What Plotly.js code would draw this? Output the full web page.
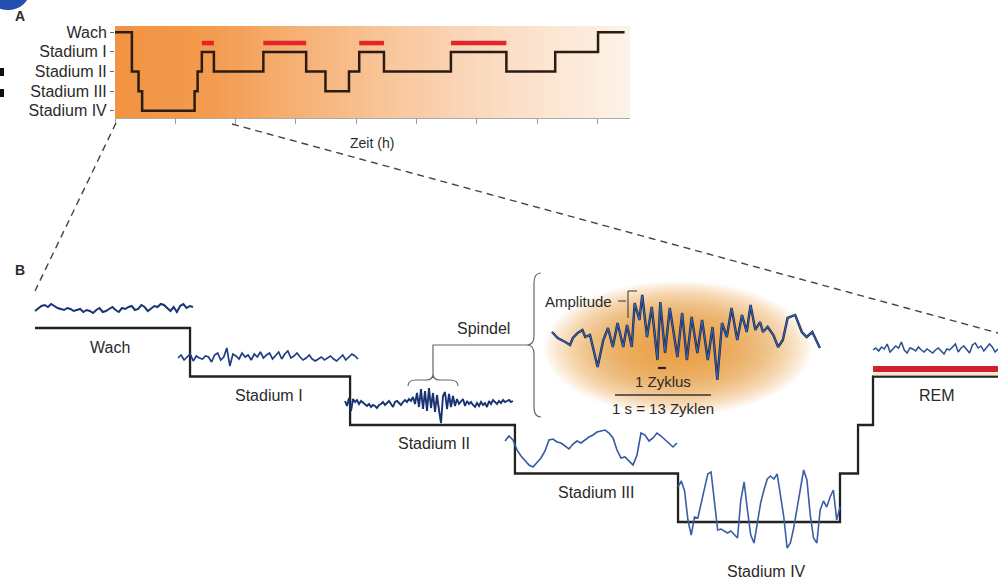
<!DOCTYPE html>
<html><head><meta charset="utf-8">
<script src="https://cdn.plot.ly/plotly-3.0.1.min.js"></script>
<style>html,body{margin:0;padding:0;background:#fff}#chart{width:998px;height:580px}</style>
</head><body><div id="chart"></div>
<script>
// ---------- Panel A: hypnogram ----------
const stageLabels = ['Wach', 'Stadium I', 'Stadium II', 'Stadium III', 'Stadium IV'];
const hypnoTime  = [0, 0.28, 0.39, 0.45, 1.32, 1.37, 1.44, 1.64, 2.46, 3.17, 3.49, 3.88, 4.05, 4.46, 5.57, 6.49, 7.30, 8.01, 8.45];
const hypnoStage = [0, 2, 3, 4, 3, 2, 1, 2, 1, 2, 3, 2, 1, 2, 1, 2, 1, 0, 0];
const remStart = [1.44, 2.46, 4.05, 5.57];
const remEnd   = [1.64, 3.17, 4.46, 6.49];
const hourTicks = [0, 1, 2, 3, 4, 5, 6, 7, 8];

// ---------- Panel B: staircase ----------
const stepBoundaries = [0, 0.963, 1.957, 2.981, 3.994, 5.0, 5.112, 5.205, 5.981];
const stepStages     = [0, 1, 2, 3, 4, 3, 2, 1, 1];
const stageNamesB = ['Wach', 'Stadium I', 'Stadium II', 'Stadium III', 'Stadium IV', 'REM'];

// ---------- EEG samples (µV, positive = up) ----------
const eegWach = [-4, 2, 6, 8, 4, 10, 6, 2, 0, -2, 2, 0, -4, -2, 0, -6, -2, -4, -8, -2, 2, -6, -4, 0, 4, -2, -6, 2, 0, 4, 6, -2, 0, 8, 4, -4, 2, 6, 4, 10, 8, 2, -4, 4, -6, 6, 10, 2, 6, 4];
const eegStadium1 = [0, 6, -4, 2, 8, -6, 4, 0, -2, 4, 2, -8, 6, 10, -4, 2, 20, -16, 8, 4, -2, 10, 2, 6, -4, 8, 2, 12, 0, 6, 10, -2, 4, 12, -2, 8, 14, 0, 4, 10, 2, -4, 0, 6, -2, -6, -2, 2, -4, 0, 4, -2, -6, 0, 6, -4, 2, 8, 4, -2];
const eegStadium2 = [4, -6, 10, -16, 8, 2, 6, -2, 4, 0, -4, -6, -2, -8, -4, -6, -10, -4, -2, 2, -4, 0, 4, -2, -8, 2, 4, 0, -4, 2, 6, 2, 8, 4, 12, -2, 20, -8, 28, -12, 24, -16, 30, -10, 20, -18, 16, -14, -40, 14, 22, -12, 18, -8, 14, -6, 8, -2, 2, 8, -6, 4, -2, 2, -4, -8, 0, -6, 2, -4, 0, -8, 4, -2, 6, 2, -2, 4, 0, 6, 2, 4, 6, 2, 4];
const eegStadium3 = [8, 18, 10, -10, -22, -30, -40, -44, -36, -26, -12, 10, 12, 6, 4, -2, -8, 2, 8, 4, 10, 16, 20, 26, 28, 30, 24, 14, -10, -26, -24, -32, -40, -20, 24, 20, 8, 14, 24, 18, 10, 4, -4, 4];
const eegStadium4 = [46, 58, 38, -20, -50, -14, -16, 14, 44, 72, 76, 20, -40, -38, -42, -46, -42, -50, -56, 20, 56, 0, -50, -66, -26, 14, 40, 62, 68, 62, 72, 30, -14, -76, -66, -36, 0, 44, 80, 60, -10, -56, -66, 0, 18, 6, 26, 40, -20, 6];
const eegREM = [0, 4, -2, 6, 2, 12, -4, 2, 8, 4, 16, 0, -6, 4, 2, -2, 6, 0, -4, 2, -2, -6, 0, 4, -2, -8, 2, 0, 6, 12, -4, 4, 8, 2, -6, 10, 14, 4, 8, -2, 4, 12, 6, -4, 2];
// Spindle detail: time (s) and µV
const spindleT = [0.00, 0.06, 0.14, 0.19, 0.22, 0.27, 0.32, 0.35, 0.40, 0.43, 0.48, 0.54, 0.59, 0.64, 0.69, 0.75, 0.79, 0.84, 0.87, 0.92, 0.95, 1.00, 1.05, 1.11, 1.14, 1.19, 1.24, 1.32, 1.37, 1.42, 1.47, 1.53, 1.58, 1.64, 1.69, 1.74, 1.79, 1.84, 1.89, 1.95, 2.00, 2.05, 2.09, 2.14, 2.19, 2.22, 2.27, 2.33, 2.38, 2.43, 2.48, 2.56, 2.63, 2.68, 2.74, 2.82];
const spindleV = [6, -6, -14, -20, -6, 4, 10, -4, 0, -24, -64, -10, 14, -24, 24, -24, 20, -24, 64, 30, 80, -4, 56, -50, 66, -36, 54, -44, 44, -50, 36, -36, 30, -50, 16, -90, 24, -4, 54, -10, 40, 6, 60, 10, 26, 6, 16, 0, -24, -10, 34, 40, 6, -4, 6, -26];

// ---------- layout helpers (pixel -> paper) ----------
const W = 998, H = 580;
const PX = x => x / W, PY = y => 1 - y / H;
const bx = px => (px - 35) / 161;       // B x-units
const by = py => (py - 328) / 48.5;     // B stage units
const UV = 0.5 / 48.5;                  // stage units per µV

const traces = [];

// Panel A background gradient (heatmap)
const nCol = 60, gx = [], gz = [];
for (let i = 0; i <= nCol; i++) gx.push(8.54 * i / nCol);
for (let i = 0; i < nCol; i++) gz.push(i);
traces.push({type: 'heatmap', x: gx, y: [-0.32, 4.37], z: [gz], showscale: false, hoverinfo: 'skip',
  colorscale: [[0, '#f19343'], [0.18, '#f39b4f'], [0.42, '#f7b983'], [0.68, '#fad6b8'], [1, '#fdf2e8']],
  xaxis: 'x', yaxis: 'y'});
// REM bars (A)
remStart.forEach((s, i) => traces.push({type: 'scatter', mode: 'lines', x: [s, remEnd[i]], y: [0.55, 0.55],
  line: {color: '#e2242b', width: 4.5}, hoverinfo: 'skip', xaxis: 'x', yaxis: 'y'}));
// Hypnogram
traces.push({type: 'scatter', mode: 'lines', x: hypnoTime, y: hypnoStage, line: {shape: 'hv', color: '#2a1c12', width: 2.5},
  hoverinfo: 'skip', xaxis: 'x', yaxis: 'y'});

// Panel B staircase
traces.push({type: 'scatter', mode: 'lines', x: stepBoundaries, y: stepStages, line: {shape: 'hv', color: '#222', width: 2.3},
  hoverinfo: 'skip', xaxis: 'x2', yaxis: 'y2'});
// REM red bar in B
traces.push({type: 'scatter', mode: 'lines', x: [stepBoundaries[7], stepBoundaries[8]], y: [by(374), by(374)],
  line: {color: '#f6e7cc', width: 3}, hoverinfo: 'skip', xaxis: 'x2', yaxis: 'y2'});
traces.push({type: 'scatter', mode: 'lines', x: [stepBoundaries[7], stepBoundaries[8]], y: [by(369), by(369)],
  line: {color: '#d0202e', width: 6}, hoverinfo: 'skip', xaxis: 'x2', yaxis: 'y2'});

function eeg(vals, pxStart, pxEnd, pyCenter, color, width) {
  const x0 = bx(pxStart), x1 = bx(pxEnd), base = by(pyCenter), n = vals.length;
  traces.push({type: 'scatter', mode: 'lines', hoverinfo: 'skip', xaxis: 'x2', yaxis: 'y2',
    x: vals.map((v, i) => x0 + (x1 - x0) * i / (n - 1)), y: vals.map(v => base - v * UV),
    line: {color: color, width: width}});
}
eeg(eegWach, 35, 193, 309, '#1a3576', 2);
eeg(eegStadium1, 178, 358, 358, '#1f3d82', 1.7);
eeg(eegStadium2, 345, 513, 403, '#183272', 1.9);
eeg(eegStadium3, 505, 677, 445, '#34599e', 1.6);
eeg(eegStadium4, 678, 840, 510, '#3a5fa6', 1.6);
eeg(eegREM, 873, 998, 350, '#284a8e', 1.5);

// Spindle (1 s = 95 px)
const sx0 = bx(552), sPerS = 95 / 161, sBase = by(335);
const sX = spindleT.map(t => sx0 + t * sPerS), sY = spindleV.map(v => sBase - v * UV);
traces.push({type: 'scatter', mode: 'lines', x: sX, y: sY, line: {color: '#1b2640', width: 2.4}, hoverinfo: 'skip', xaxis: 'x2', yaxis: 'y2'});
traces.push({type: 'scatter', mode: 'lines', x: sX, y: sY, line: {color: '#3563b5', width: 1.1}, hoverinfo: 'skip', xaxis: 'x2', yaxis: 'y2'});

// ---------- shapes ----------
const shapes = [];
// orange glow behind spindle (many stacked ellipses -> soft gradient)
const gcx = 678, gcy = 348, grx = 134, gry = 67, nG = 44;
for (let k = 0; k < nG; k++) {
  const f = 1 - k / (nG + 2);
  shapes.push({type: 'circle', xref: 'paper', yref: 'paper', layer: 'below',
    x0: PX(gcx - grx * f), x1: PX(gcx + grx * f), y0: PY(gcy - gry * f), y1: PY(gcy + gry * f),
    fillcolor: 'rgba(244,148,52,0.05)', line: {width: 0}});
}
// dashed zoom lines
shapes.push({type: 'line', xref: 'paper', yref: 'paper', x0: PX(116), y0: PY(123), x1: PX(35), y1: PY(291), line: {color: '#444', width: 1.4, dash: '7px,5px'}});
shapes.push({type: 'line', xref: 'paper', yref: 'paper', x0: PX(232), y0: PY(124), x1: PX(998), y1: PY(333), line: {color: '#444', width: 1.4, dash: '7px,5px'}});
// Spindel bracket
const P = (x, y) => PX(x) + ',' + PY(y);
shapes.push({type: 'path', xref: 'paper', yref: 'paper', line: {color: '#666', width: 1.2},
  path: 'M' + P(433, 374) + ' L' + P(433, 345) + ' L' + P(527, 345)});
shapes.push({type: 'path', xref: 'paper', yref: 'paper', line: {color: '#666', width: 1.2},
  path: 'M' + P(408, 386) + ' Q' + P(408, 380) + ' ' + P(416, 380) + ' L' + P(426, 380) + ' Q' + P(433, 380) + ' ' + P(433, 374) +
        ' Q' + P(433, 380) + ' ' + P(440, 380) + ' L' + P(450, 380) + ' Q' + P(458, 380) + ' ' + P(458, 386)});
shapes.push({type: 'path', xref: 'paper', yref: 'paper', line: {color: '#666', width: 1.2},
  path: 'M' + P(541, 273) + ' Q' + P(534, 273) + ' ' + P(534, 283) + ' L' + P(534, 336) + ' Q' + P(534, 345) + ' ' + P(527, 345) +
        ' Q' + P(534, 345) + ' ' + P(534, 354) + ' L' + P(534, 407) + ' Q' + P(534, 417) + ' ' + P(541, 417)});
// Amplitude bracket
shapes.push({type: 'path', xref: 'paper', yref: 'paper', line: {color: '#333', width: 1},
  path: 'M' + P(618, 301) + ' L' + P(626, 301) + ' M' + P(637, 291) + ' L' + P(628, 291) + ' L' + P(628, 318)});
// 1 Zyklus marker and 1 s line
shapes.push({type: 'line', xref: 'paper', yref: 'paper', x0: PX(658), x1: PX(666), y0: PY(368), y1: PY(368), line: {color: '#222', width: 2.2}});
shapes.push({type: 'line', xref: 'paper', yref: 'paper', x0: PX(615), x1: PX(711), y0: PY(395), y1: PY(395), line: {color: '#333', width: 1.5}});
// top-left badge & marks
shapes.push({type: 'circle', xref: 'paper', yref: 'paper', x0: PX(-14), x1: PX(30), y0: PY(-30), y1: PY(10), fillcolor: '#2350b0', line: {width: 0}});
shapes.push({type: 'rect', xref: 'paper', yref: 'paper', x0: 0, x1: PX(4), y0: PY(68), y1: PY(76), fillcolor: '#111', line: {width: 0}});
shapes.push({type: 'rect', xref: 'paper', yref: 'paper', x0: 0, x1: PX(4), y0: PY(89), y1: PY(97), fillcolor: '#111', line: {width: 0}});

// ---------- annotations ----------
const F = 'Liberation Sans, Arial, sans-serif';
const ann = (text, x, y, size, opts) => Object.assign({text: text, x: PX(x), y: PY(y), xref: 'paper', yref: 'paper',
  showarrow: false, font: {family: F, size: size, color: '#2a2a2a'}, xanchor: 'center', yanchor: 'middle'}, opts || {});
const LB = 16;
const annotations = [
  ann('<b>A</b>', 20, 16, 14),
  ann('<b>B</b>', 20, 270, 14),
  ann('Zeit (h)', 372, 143, 14),
  ann(stageNamesB[0], 110, 347, LB),
  ann(stageNamesB[1], 269, 395, LB),
  ann(stageNamesB[2], 434, 443, LB),
  ann(stageNamesB[3], 596, 492, LB),
  ann(stageNamesB[4], 766, 571, LB),
  ann(stageNamesB[5], 937, 395, LB),
  ann('Spindel', 483, 328, LB),
  ann('Amplitude', 614, 301, 15, {xanchor: 'right'}),
  ann('1 Zyklus', 663, 381, 15),
  ann('1 s = 13 Zyklen', 663, 408, 15)
];

const layout = {
  width: W, height: H, margin: {l: 0, r: 0, t: 0, b: 0},
  paper_bgcolor: '#fff', plot_bgcolor: 'rgba(0,0,0,0)', showlegend: false,
  font: {family: F, color: '#2a2a2a'},
  xaxis: {domain: [PX(115), PX(630)], range: [0, 8.54], tickvals: hourTicks, showticklabels: false,
    ticks: 'outside', ticklen: 5, tickcolor: '#999', showline: true, linecolor: '#aaa', linewidth: 1,
    showgrid: false, zeroline: false, fixedrange: true},
  yaxis: {domain: [PY(118), PY(26)], range: [4.37, -0.32], tickvals: [0, 1, 2, 3, 4], ticktext: stageLabels,
    ticks: 'outside', ticklen: 4, tickcolor: '#666', tickfont: {family: F, size: 16, color: '#2a2a2a'},
    showline: false, showgrid: false, zeroline: false, fixedrange: true},
  xaxis2: {domain: [0, 1], range: [bx(0), bx(998)], visible: false, fixedrange: true},
  yaxis2: {domain: [0, 1], range: [by(580), by(0)], visible: false, fixedrange: true},
  shapes: shapes, annotations: annotations
};
Plotly.newPlot('chart', traces, layout, {staticPlot: true, displayModeBar: false});
</script></body></html>
